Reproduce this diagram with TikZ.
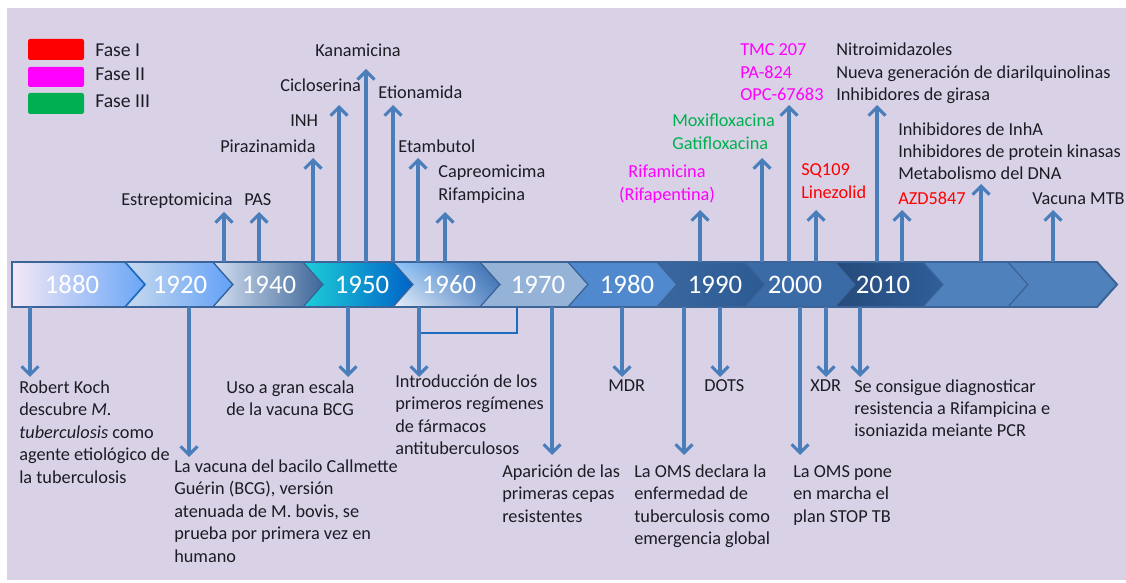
\documentclass[tikz,border=0pt]{standalone}
\usepackage{fontspec}
\setmainfont{Carlito}
\usetikzlibrary{arrows.meta,shadings}
\definecolor{bg}{RGB}{217,210,230}
\definecolor{arr}{RGB}{74,126,187}
\definecolor{brk}{RGB}{30,108,192}
\definecolor{bandline}{RGB}{60,100,150}
\definecolor{txt}{RGB}{28,28,36}
\definecolor{fred}{RGB}{255,0,0}
\definecolor{fmag}{RGB}{255,0,255}
\definecolor{fgreen}{RGB}{0,176,80}
\tikzset{
  lbl/.style={font=\fontsize{13}{16}\selectfont, text=txt, align=left,
    anchor=base west, inner sep=0pt},
  year/.style={font=\fontsize{19}{22}\selectfont, text=white, inner sep=0pt},
  uparr/.style={draw=arr, line width=2.2pt, -{Straight Barb[length=6pt,width=12pt]}},
  chev/.style={draw=bandline, line width=0.8pt},
  legbox/.style={rounded corners=1.5pt, draw=none},
}
% one chevron of the band: left corner, right corner, fill
\newcommand\chevron[3]{%
  \path[chev,#3] (#1,262) -- (#2,262) -- ++(20,22.5) -- (#2,307)
    -- (#1,307) -- ++(20,-22.5) -- cycle;}
\begin{document}
\begin{tikzpicture}[x=0.025cm, y=-0.025cm]
  \useasboundingbox (0,0) rectangle (1126,583);
  \fill[bg] (7,8) rectangle (1126,580);

  % legend
  \fill[legbox, fred]   (28,39) rectangle (84,60);
  \fill[legbox, fmag]   (28,67) rectangle (84,87);
  \fill[legbox, fgreen] (28,93) rectangle (84,114);
  \node[lbl, font=\fontsize{14}{16}\selectfont] (fase1) at (95,57)  {Fase I};
  \node[lbl, font=\fontsize{14}{16}\selectfont] (fase2) at (95,81)  {Fase II};
  \node[lbl, font=\fontsize{14}{16}\selectfont] (fase3) at (95,108) {Fase III};

  % the band
  \path[chev, left color={rgb,255:red,244;green,232;blue,246},
        right color={rgb,255:red,106;green,166;blue,246}]
    (12,262) -- (125,262) -- ++(20,22.5) -- (125,307) -- (12,307) -- cycle;
  \chevron{125}{213}{left color={rgb,255:red,200;green,218;blue,238},
    right color={rgb,255:red,98;green,160;blue,248}, draw=brk, line width=1.2pt}
  \chevron{213}{303}{left color={rgb,255:red,210;green,222;blue,240},
    middle color={rgb,255:red,140;green,190;blue,246},
    right color={rgb,255:red,62;green,103;blue,152}}
  \chevron{303}{393}{left color={rgb,255:red,30;green,206;blue,216},
    right color={rgb,255:red,0;green,98;blue,200}}
  \chevron{393}{480}{upper left={rgb,255:red,142;green,197;blue,250},
    lower left={rgb,255:red,236;green,240;blue,248},
    upper right={rgb,255:red,53;green,103;blue,168},
    lower right={rgb,255:red,90;green,138;blue,200}}
  \chevron{480}{568}{fill={rgb,255:red,149;green,179;blue,215}}
  \chevron{568}{657}{fill={rgb,255:red,80;green,137;blue,206}}
  \chevron{657}{745}{left color={rgb,255:red,58;green,103;blue,159},
    right color={rgb,255:red,44;green,90;blue,147}}
  \chevron{745}{835}{fill={rgb,255:red,59;green,107;blue,166}}
  \chevron{835}{923}{left color={rgb,255:red,38;green,74;blue,122},
    right color={rgb,255:red,47;green,94;blue,154}}
  \chevron{923}{1008}{fill={rgb,255:red,79;green,129;blue,189}}
  \chevron{1008}{1097}{fill={rgb,255:red,79;green,129;blue,189}}
  \draw[bandline, line width=1.4pt]
    (12,262) -- (1097,262) -- (1117,284.5) -- (1097,307) -- (12,307) -- cycle;

  % years
  \foreach \y/\x in {1880/72, 1920/180, 1940/269, 1950/362, 1960/449,
                     1970/538, 1980/627, 1990/715, 2000/795, 2010/883}
    \node[year] (y\y) at (\x,284.5) {\y};

  % labels above the band (placed at the baseline of their last line)
  \node[lbl] (estrep)  at (121,206) {Estreptomicina};
  \node[lbl] (pas)     at (244,206) {PAS};
  \node[lbl] (pirazin) at (220,153) {Pirazinamida};
  \node[lbl] (inh)     at (290,127) {INH};
  \node[lbl] (ciclo)   at (280,92)  {Cicloserina};
  \node[lbl] (kana)    at (315,57)  {Kanamicina};
  \node[lbl] (etion)   at (378,99)  {Etionamida};
  \node[lbl] (etamb)   at (398,153) {Etambutol};
  \node[lbl] (capreo)  at (438,200.5) {Capreomicima\\Rifampicina};
  \node[lbl, text=fmag, align=center, anchor=base] (rifami) at (667,200.5)
    {Rifamicina\\(Rifapentina)};
  \node[lbl, text=fgreen] (moxi) at (672,149.5) {Moxifloxacina\\Gatifloxacina};
  \node[lbl, text=fmag]   (tmc)  at (740,101)  {TMC 207\\PA-824\\OPC-67683};
  \node[lbl] (nitro) at (836,101)
    {Nitroimidazoles\\Nueva generación de diarilquinolinas\\Inhibidores de girasa};
  \node[lbl, text=fred] (sq) at (801,198.5) {SQ109\\Linezolid};
  \node[lbl] (inha) at (898,180)
    {Inhibidores de InhA\\Inhibidores de protein kinasas\\Metabolismo del DNA};
  \node[lbl, text=fred] (azd) at (898,205) {AZD5847};
  \node[lbl] (mtb) at (1032,205) {Vacuna MTB};

  % labels below the band
  \node[lbl] (koch) at (19,483)
    {Robert Koch\\descubre \textit{M.}\\\textit{tuberculosis} como\\
     agente etiológico de\\la tuberculosis};
  \node[lbl] (bcg) at (174,562)
    {La vacuna del bacilo Callmette\\Guérin (BCG), versión\\
     atenuada de M. bovis, se\\prueba por primera vez en\\humano};
  \node[lbl] (bcguse) at (226,415.5) {Uso a gran escala\\de la vacuna BCG};
  \node[lbl] (regim) at (395,454.5)
    {Introducción de los\\primeros regímenes\\de fármacos\\antituberculosos};
  \node[lbl] (resist) at (502,522)
    {Aparición de las\\primeras cepas\\resistentes};
  \node[lbl] (mdr)  at (608,392) {MDR};
  \node[lbl] (omsdecl) at (634,544.5)
    {La OMS declara la\\enfermedad de\\tuberculosis como\\emergencia global};
  \node[lbl] (dots) at (704,392) {DOTS};
  \node[lbl] (omsstop) at (793,522) {La OMS pone\\en marcha el\\plan STOP TB};
  \node[lbl] (xdr)  at (810,392) {XDR};
  \node[lbl] (pcr)  at (854,437)
    {Se consigue diagnosticar\\resistencia a Rifampicina e\\isoniazida meiante PCR};

  % bracket under 1960-1970
  \coordinate (brA) at (517,307);
  \coordinate (brB) at (419,333);
  \draw[brk, line width=2pt] (brA) |- (brB);

  % arrows up
  \foreach \n/\x/\t in {1/224/212, 2/259/212, 3/313/158, 4/339/105, 5/366/69,
      6/393/105, 7/418/158, 8/445/212, 9/700/210, 10/762/158, 11/789/105,
      12/816/210, 13/877/105, 14/902/210, 15/981/184, 16/1053/210}{
    \coordinate (u\n) at (\x,262);
    \coordinate (ut\n) at (\x,\t);
    \draw[uparr] (u\n) -- (ut\n);
  }
  % arrows down
  \foreach \n/\x/\t in {1/30/377, 2/189/457, 3/348/377, 4/419/377, 5/552/455,
      6/622/377, 7/684/455, 8/720/377, 9/800/455, 10/826/377, 11/860/377}{
    \coordinate (d\n) at (\x,307);
    \coordinate (dt\n) at (\x,\t);
    \draw[uparr] (d\n) -- (dt\n);
  }
\end{tikzpicture}
\end{document}
